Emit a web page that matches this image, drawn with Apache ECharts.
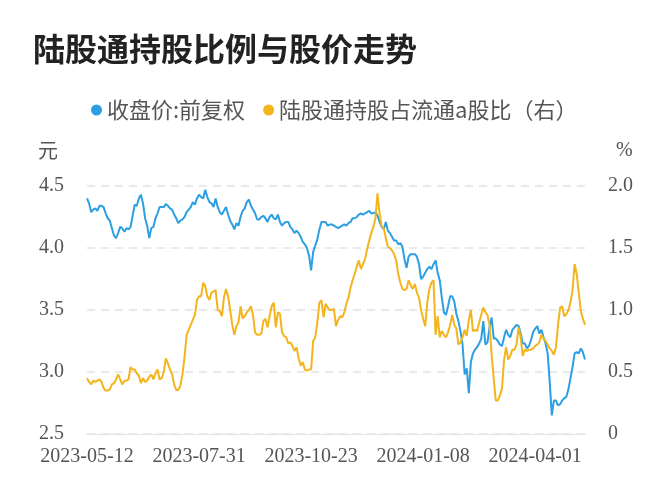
<!DOCTYPE html>
<html>
<head>
<meta charset="utf-8">
<script src="https://cdn.jsdelivr.net/npm/echarts@6/dist/echarts.min.js"></script>
<style>html,body{margin:0;padding:0;background:#fff}#c{width:672px;height:500px}</style>
</head>
<body>
<div id="c"></div>
<script>
// ---- data ----
var titleText = '陆股通持股比例与股价走势';
var seriesNames = ['收盘价:前复权', '陆股通持股占流通a股比（右）'];
var startDate = '2023-05-12';
var tradingDaysCount = 241;
var holidays = ['2023-06-22','2023-06-23','2023-09-29','2023-10-02','2023-10-03','2023-10-04','2023-10-05','2023-10-06',
  '2024-01-01','2024-02-09','2024-02-12','2024-02-13','2024-02-14','2024-02-15','2024-02-16',
  '2024-04-04','2024-04-05','2024-05-01','2024-05-02','2024-05-03'];
var priceValues = [
4.40,4.36,4.29,4.31,4.32,4.30,4.34,4.34,4.33,4.28,
4.24,4.22,4.16,4.10,4.08,4.12,4.17,4.16,4.13,4.16,
4.15,4.17,4.26,4.35,4.34,4.40,4.43,4.36,4.24,4.18,
4.08,4.16,4.17,4.24,4.28,4.33,4.33,4.33,4.355,4.34,
4.32,4.31,4.27,4.24,4.20,4.22,4.23,4.25,4.29,4.31,
4.33,4.37,4.35,4.40,4.43,4.41,4.40,4.47,4.41,4.37,
4.36,4.33,4.40,4.33,4.29,4.27,4.30,4.33,4.27,4.22,
4.19,4.15,4.20,4.18,4.25,4.30,4.32,4.37,4.39,4.34,
4.31,4.28,4.23,4.23,4.25,4.26,4.24,4.21,4.25,4.27,
4.24,4.23,4.27,4.21,4.18,4.20,4.21,4.21,4.17,4.15,
4.12,4.14,4.12,4.09,4.05,4.03,4.00,3.94,3.82,3.97,
4.02,4.07,4.15,4.21,4.21,4.21,4.18,4.19,4.19,4.18,
4.17,4.16,4.17,4.18,4.19,4.18,4.20,4.21,4.24,4.24,
4.25,4.27,4.28,4.27,4.28,4.29,4.30,4.28,4.28,4.29,
4.26,4.21,4.17,4.15,4.21,4.14,4.12,4.09,4.06,4.06,
4.03,4.04,4.01,3.91,3.84,3.93,3.95,3.95,3.95,3.93,
3.87,3.75,3.77,3.80,3.83,3.85,3.83,3.87,3.90,3.80,
3.74,3.60,3.48,3.46,3.53,3.61,3.61,3.57,3.47,3.41,
3.33,3.22,2.98,3.03,2.83,3.08,3.15,3.18,3.20,3.23,
3.27,3.41,3.22,3.24,3.36,3.44,3.27,3.27,3.25,3.22,
3.21,3.28,3.34,3.30,3.28,3.34,3.36,3.38,3.37,3.31,
3.23,3.23,3.19,3.21,3.26,3.32,3.35,3.37,3.31,3.34,
3.28,3.23,3.15,2.92,2.65,2.77,2.77,2.73,2.74,2.77,
2.79,2.80,2.86,2.95,3.04,3.15,3.16,3.15,3.19,3.16,
3.10];
var holdValues = [
0.45,0.42,0.40,0.43,0.42,0.43,0.44,0.42,0.37,0.35,
0.35,0.36,0.40,0.41,0.44,0.48,0.44,0.40,0.43,0.43,
0.44,0.54,0.52,0.52,0.49,0.47,0.41,0.45,0.42,0.43,
0.46,0.48,0.44,0.49,0.52,0.44,0.45,0.50,0.61,0.57,
0.52,0.48,0.40,0.355,0.355,0.39,0.48,0.62,0.80,0.84,
0.88,0.92,0.96,1.08,1.11,1.11,1.22,1.19,1.11,1.08,
1.14,1.15,1.16,1.00,0.99,0.95,1.10,1.17,1.11,1.00,
0.88,0.80,0.87,0.90,1.03,0.93,0.95,0.98,1.00,1.03,
0.96,0.82,0.80,0.80,0.81,0.91,0.93,0.86,0.95,1.03,
1.06,0.86,0.98,0.97,0.82,0.79,0.78,0.73,0.74,0.71,
0.67,0.70,0.61,0.55,0.58,0.52,0.51,0.52,0.52,0.75,
0.78,0.90,1.06,1.08,0.94,1.05,1.02,1.00,1.00,1.01,
0.87,0.92,0.95,0.94,0.98,1.05,1.10,1.18,1.24,1.29,
1.35,1.40,1.33,1.37,1.41,1.49,1.56,1.62,1.67,1.74,
1.94,1.78,1.67,1.66,1.58,1.51,1.50,1.48,1.45,1.40,
1.29,1.22,1.17,1.16,1.17,1.24,1.20,1.17,1.21,1.14,
1.10,1.00,0.93,0.87,1.06,1.17,1.22,1.24,0.80,0.95,
0.78,0.83,0.80,0.78,0.82,0.88,0.96,0.88,0.85,0.72,
0.74,0.78,0.84,0.79,0.92,1.00,0.83,0.84,0.83,0.90,
0.96,1.02,0.98,0.96,0.88,0.64,0.45,0.27,0.27,0.31,
0.37,0.60,0.70,0.60,0.63,0.68,0.68,0.72,0.86,0.78,
0.63,0.68,0.67,0.68,0.68,0.69,0.71,0.72,0.74,0.80,
0.77,0.75,0.72,0.69,0.67,0.64,0.70,0.88,1.02,1.03,
0.95,0.965,1.00,1.06,1.16,1.37,1.29,1.14,0.99,0.93,
0.88];
var leftTicks = {min: 2.5, max: 4.5, interval: 0.5};
var rightTicks = {min: 0, max: 2.0, interval: 0.5};

// ---- build trading-day categories ----
function fmt(d){var m=d.getUTCMonth()+1, dd=d.getUTCDate();return d.getUTCFullYear()+'-'+(m<10?'0':'')+m+'-'+(dd<10?'0':'')+dd;}
var categories = [];
var d = new Date(startDate + 'T00:00:00Z');
while (categories.length < tradingDaysCount) {
  var wd = d.getUTCDay(), s = fmt(d);
  if (wd !== 0 && wd !== 6 && holidays.indexOf(s) < 0) categories.push(s);
  d = new Date(d.getTime() + 86400000);
}

var blue = '#2c9fe2', orange = '#f4b41c';
var tickFont = 'Liberation Serif';
var chart = echarts.init(document.getElementById('c'), null, {renderer: 'canvas'});
chart.setOption({
  backgroundColor: '#fff',
  animation: false,
  title: {
    text: titleText, left: 28, top: 28,
    textStyle: {fontSize: 32, fontWeight: 'bold', color: '#222', fontFamily: 'Noto Sans CJK SC'}
  },
  legend: {
    left: 86, top: 94, itemWidth: 11, itemHeight: 11, itemGap: 18, icon: 'circle',
    textStyle: {fontSize: 22, color: '#555', fontFamily: 'Noto Sans CJK SC'},
    data: seriesNames
  },
  grid: {left: 87, right: 87, top: 186, bottom: 66},
  xAxis: {
    type: 'category', data: categories, boundaryGap: false,
    axisLine: {lineStyle: {color: '#e3e3e3'}},
    axisTick: {show: false},
    axisLabel: {
      color: '#555', fontSize: 20, fontFamily: tickFont, margin: 13, hideOverlap: false,
      interval: function(idx){ return idx % 54 === 0 && idx < 230; }
    }
  },
  yAxis: [{
    type: 'value', min: leftTicks.min, max: leftTicks.max, interval: leftTicks.interval,
    name: '元', nameGap: 26, nameTextStyle: {fontSize: 20, color: '#555', fontFamily: 'Noto Sans CJK SC', align: 'right', padding: [0, 29, 0, 0]},
    axisLine: {show: false}, axisTick: {show: false},
    axisLabel: {color: '#555', fontSize: 20, fontFamily: tickFont, margin: 23, formatter: function(v){return v.toFixed(1);}},
    splitLine: {lineStyle: {color: '#e3e3e3', type: [8, 6], width: 1.5}}
  }, {
    type: 'value', min: rightTicks.min, max: rightTicks.max, interval: rightTicks.interval,
    name: '%', nameGap: 25, nameTextStyle: {fontSize: 20, color: '#555', fontFamily: tickFont, align: 'left', padding: [0, 0, 0, 31]},
    axisLine: {show: false}, axisTick: {show: false},
    axisLabel: {color: '#555', fontSize: 20, fontFamily: tickFont, margin: 23, formatter: function(v){return v === 0 ? '0' : v.toFixed(1);}},
    splitLine: {show: false}
  }],
  series: [{
    name: seriesNames[0], type: 'line', data: priceValues, yAxisIndex: 0,
    symbol: 'none', lineStyle: {color: blue, width: 2}, itemStyle: {color: blue}
  }, {
    name: seriesNames[1], type: 'line', data: holdValues, yAxisIndex: 1,
    symbol: 'none', lineStyle: {color: orange, width: 2}, itemStyle: {color: orange}
  }]
});
</script>
</body>
</html>
